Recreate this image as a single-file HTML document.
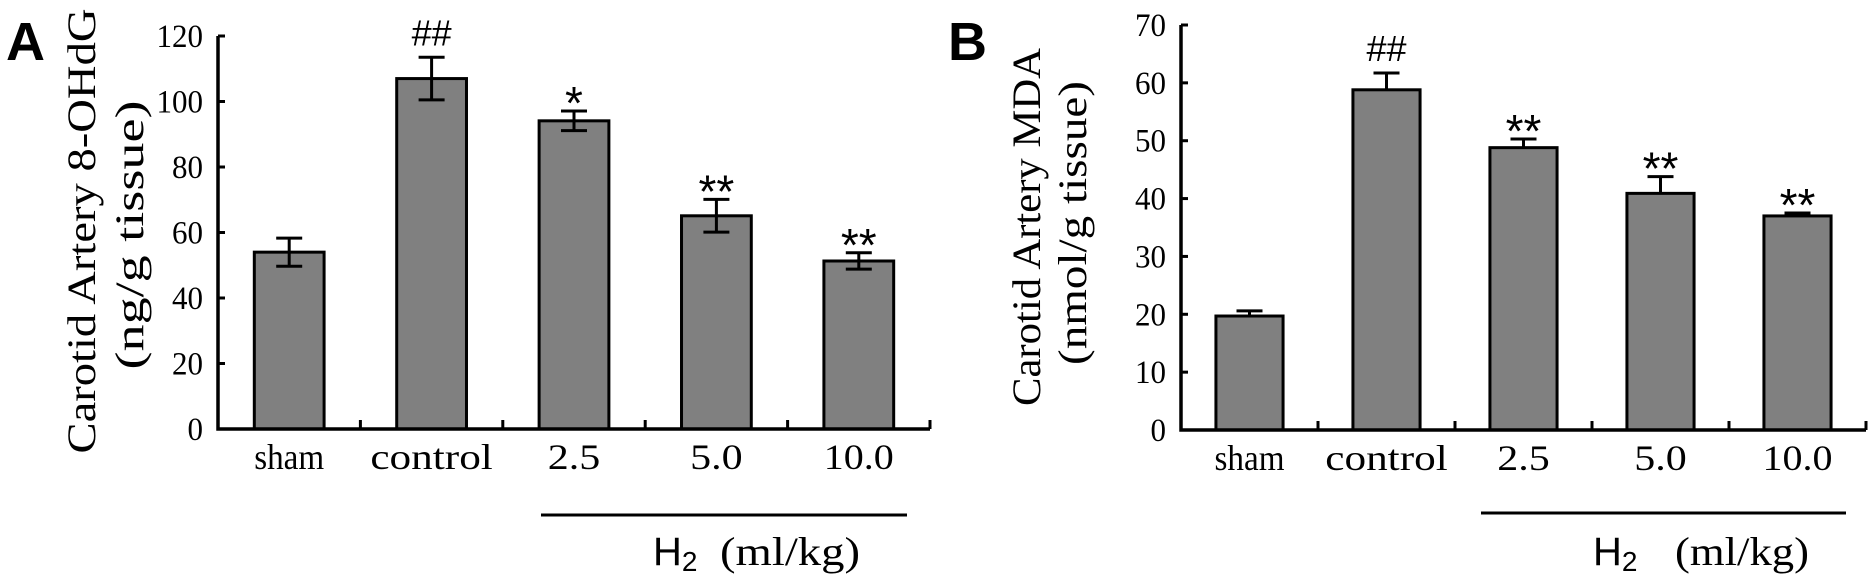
<!DOCTYPE html>
<html><head><meta charset="utf-8"><style>
html,body{margin:0;padding:0;background:#fff;}
svg{display:block;}
text{font-family:"Liberation Serif","Noto Serif CJK SC",serif;fill:#000;}
.big{font-family:"Liberation Sans",sans-serif;font-weight:bold;}
</style></head><body>
<svg id="chart" width="1872" height="578" viewBox="0 0 1872 578">
<text class="big" x="6" y="60" font-size="54">A</text>
<text class="big" x="948" y="60" font-size="54">B</text>
<text transform="translate(82,231) rotate(-90)" text-anchor="middle" font-size="40" textLength="445" lengthAdjust="spacingAndGlyphs" dy="13">Carotid Artery 8-OHdG</text>
<text transform="translate(130,235) rotate(-90)" text-anchor="middle" font-size="40" textLength="269" lengthAdjust="spacingAndGlyphs" dy="13">(ng/g tissue)</text>
<text transform="translate(1027,227) rotate(-90)" text-anchor="middle" font-size="40" textLength="358" lengthAdjust="spacingAndGlyphs" dy="13">Carotid Artery MDA</text>
<text transform="translate(1073,223) rotate(-90)" text-anchor="middle" font-size="40" textLength="284" lengthAdjust="spacingAndGlyphs" dy="13">(nmol/g tissue)</text>
<line x1="541" y1="515" x2="907" y2="515" stroke="#000" stroke-width="3"/>
<text x="653" y="565" font-size="40" style="font-family:'Liberation Sans',sans-serif">H<tspan font-size="28" dy="6">2</tspan></text>
<text x="720" y="565" font-size="40" textLength="140" lengthAdjust="spacingAndGlyphs">(ml/kg)</text>
<line x1="1481" y1="513" x2="1846" y2="513" stroke="#000" stroke-width="3"/>
<text x="1593" y="565" font-size="40" style="font-family:'Liberation Sans',sans-serif">H<tspan font-size="28" dy="6">2</tspan></text>
<text x="1675" y="565" font-size="40" textLength="134" lengthAdjust="spacingAndGlyphs">(ml/kg)</text>
<g id="ga"></g><g id="gb"></g>
</svg>
<script>
const categories = ["sham","control","2.5","5.0","10.0"];
const valuesA = [54, 107, 94.1, 65.1, 51.3];
const errorsA = [4.3, 6.5, 3, 5, 2.5];
const marksA = ["", "##", "*", "**", "**"];
const ticksA = [0,20,40,60,80,100,120];
const valuesB = [19.7, 58.8, 48.8, 40.9, 37.0];
const errorsB = [0.9, 2.9, 1.5, 2.9, 0.5];
const marksB = ["", "##", "**", "**", "**"];
const ticksB = [0,10,20,30,40,50,60,70];
const NS="http://www.w3.org/2000/svg";
function mk(tag, attrs, parent){const e=document.createElementNS(NS,tag);for(const k in attrs)e.setAttribute(k,attrs[k]);parent.appendChild(e);return e;}
function draw(g, cfg){
  const {x0,x1,y0,yTop,max,vals,errs,marks,ticks,sym,pfx}=cfg;
  const cw=(x1-x0)/categories.length;
  const ys=v=>y0-(v/max)*(y0-yTop);
  const xc=i=>x0+cw*(i+0.5);
  const bw=cw*0.49;
  vals.forEach((v,i)=>{
    const r=mk('rect',{x:xc(i)-bw/2,y:ys(v),width:bw,height:y0-ys(v),fill:'#808080',stroke:'#000','stroke-width':3},g);
    
    
    const top=ys(v+errs[i]), bot=sym?ys(v-errs[i]):ys(v);
    const el=mk('path',{d:`M${xc(i)},${top}V${bot}M${xc(i)-13},${top}h26`+(sym?`M${xc(i)-13},${bot}h26`:''),stroke:'#000','stroke-width':3,fill:'none'},g);
    
    
    if(marks[i]){
      const isHash=marks[i][0]==='#';
      const t=mk('text',{x:xc(i),y:isHash?top-12:top+8,'text-anchor':'middle','font-size':isHash?36:46},g);
      t.setAttribute('style',"font-family:'Liberation Sans',sans-serif");
      t.textContent=marks[i];
      
      
    }
    const lb=mk('text',{x:xc(i),y:y0+40,'text-anchor':'middle','font-size':36,textLength:categories[i].length*17.5,lengthAdjust:'spacingAndGlyphs'},g);
    lb.textContent=categories[i];
    
    
  });
  for(let i=1;i<=categories.length;i++){
    const t=mk('line',{x1:x0+cw*i,x2:x0+cw*i,y1:y0,y2:y0-9,stroke:'#000','stroke-width':3},g);
    
    
  }
  ticks.forEach(tv=>{
    const t=mk('line',{x1:x0,x2:x0+7,y1:ys(tv),y2:ys(tv),stroke:'#000','stroke-width':3},g);
    
    
    const l=mk('text',{x:x0-15,y:ys(tv)+11,'text-anchor':'end','font-size':33,textLength:String(tv).length*15.5,lengthAdjust:'spacingAndGlyphs'},g);
    l.textContent=tv;
    
    
  });
  const ax=mk('path',{d:`M${x0},${yTop}V${y0}H${x1}`,stroke:'#000','stroke-width':3.5,fill:'none'},g);
  
  
}
draw(document.getElementById('ga'),{x0:218,x1:930,y0:429,yTop:36,max:120,vals:valuesA,errs:errorsA,marks:marksA,ticks:ticksA,sym:true,pfx:'chart-a'});
draw(document.getElementById('gb'),{x0:1181,x1:1866,y0:430,yTop:25,max:70,vals:valuesB,errs:errorsB,marks:marksB,ticks:ticksB,sym:false,pfx:'chart-b'});
</script>
</body></html>
